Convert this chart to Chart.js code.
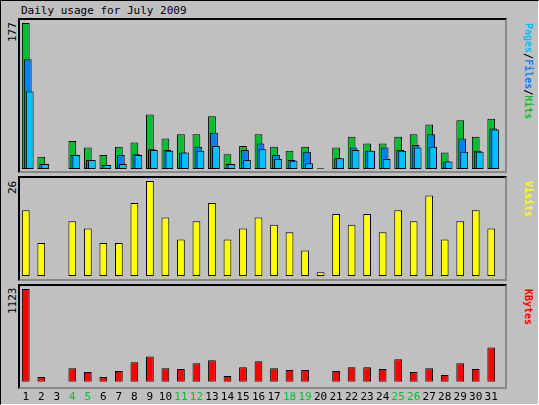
<!DOCTYPE html>
<html><head><meta charset="utf-8">
<script src="https://cdn.jsdelivr.net/npm/chart.js@4"></script>
<style>
body{margin:0;background:#c0c0c0;font-family:"DejaVu Sans Mono",monospace;}
#wrap{position:relative;width:539px;height:405px;background:#c0c0c0;box-sizing:border-box;border:1px solid #000;border-right-color:#fff;border-bottom-color:#fff;}
.box{position:absolute;box-sizing:border-box;border:2px solid #000;border-right-color:#888;border-bottom-color:#888;}
.c{position:absolute;}
.t{position:absolute;font-size:11px;white-space:nowrap;color:#000;}
.rl{position:absolute;font-size:10px;white-space:nowrap;transform-origin:0 0;transform:rotate(90deg);font-weight:bold;}
.ll{position:absolute;font-size:11px;white-space:nowrap;transform-origin:0 0;transform:rotate(-90deg);}
</style></head><body>
<div id="wrap">
  <div class="t" style="left:20px;top:3px">Daily usage for July 2009</div>
  <div class="box" style="left:17px;top:17px;width:489px;height:155px"></div>
  <div class="box" style="left:17px;top:175px;width:489px;height:105px"></div>
  <div class="box" style="left:17px;top:283px;width:489px;height:105px"></div>
  <div class="ll" style="left:5px;top:41px">177</div>
  <div class="ll" style="left:5px;top:193px">26</div>
  <div class="ll" style="left:5px;top:313px">1123</div>
  <div class="rl" style="left:533px;top:22px"><span style="color:#00c0ff">Pages</span>/<span style="color:#0080ff">Files</span>/<span style="color:#00c030">Hits</span></div>
  <div class="rl" style="left:533px;top:180px;color:#ffff00">Visits</div>
  <div class="rl" style="left:533px;top:288px;color:#ff0000">KBytes</div>
  <div class="c" style="left:17px;top:22px;width:481px;height:146px"><canvas id="top"></canvas></div>
  <div class="c" style="left:17px;top:180px;width:481px;height:95px"><canvas id="mid"></canvas></div>
  <div class="c" style="left:17px;top:288px;width:481px;height:116px"><canvas id="bot"></canvas></div>
</div>
<script>
const days = Array.from({length: 31}, (_, i) => String(i + 1));
const weekend = ['4','5','11','12','18','19','25','26'];
const hits = [177,15,0,34,26,17,27,32,66,37,42,42,64,18,28,42,27,22,27,1,26,39,31,31,39,42,54,20,59,39,61];
const files = [133,6,0,17,11,5,17,18,24,23,20,27,44,6,23,31,17,11,21,0,13,26,22,26,23,29,42,9,37,22,49];
const pages = [94,6,0,17,11,5,6,17,23,22,20,22,28,6,11,24,12,10,7,0,13,23,22,12,22,26,27,9,21,21,48];
const visits = [18,9,0,15,13,9,9,20,26,16,10,15,20,10,13,16,14,12,7,1,17,14,17,12,18,15,22,10,15,18,13];
const kbytes = [1123,59,0,165,118,59,130,236,307,165,154,225,260,71,177,248,165,142,142,3,130,177,177,154,272,118,165,83,225,154,414];

const shift = {
  id: 'shift',
  afterDatasetsUpdate(chart) {
    chart.data.datasets.forEach((ds, i) => {
      const dx = ds.dx || 0;
      chart.getDatasetMeta(i).data.forEach(el => { el.x += dx; });
    });
  }
};
const bar = (data, color, dx) => ({
  data, backgroundColor: color, borderColor: '#000', borderWidth: 1,
  barPercentage: 0.5, categoryPercentage: 1, grouped: false, dx, borderSkipped: false
});
const base = (max, showX) => ({
  responsive: true, maintainAspectRatio: false, animation: false,
  layout: {padding: 0},
  plugins: {legend: {display: false}, tooltip: {enabled: false}},
  scales: {
    x: {display: showX, grid: {display: false}, border: {display: false},
        ticks: {padding: 1, maxRotation: 0, autoSkip: false,
          font: {family: 'DejaVu Sans Mono', size: 11},
          color: c => weekend.includes(days[c.index]) ? '#00c030' : '#000'}},
    y: {display: false, min: 0, max}
  }
});

new Chart(document.getElementById('top'), {
  type: 'bar', plugins: [shift],
  data: {labels: days, datasets: [
    bar(pages, '#00c0ff', 4), bar(files, '#0080ff', 2), bar(hits, '#00c030', 0)
  ]},
  options: base(177, false)
});
new Chart(document.getElementById('mid'), {
  type: 'bar', plugins: [shift],
  data: {labels: days, datasets: [bar(visits, '#ffff00', 0)]},
  options: base(26, false)
});
new Chart(document.getElementById('bot'), {
  type: 'bar', plugins: [shift],
  data: {labels: days, datasets: [bar(kbytes, '#ff0000', 0)]},
  options: base(1123, true)
});
</script>
</body></html>
